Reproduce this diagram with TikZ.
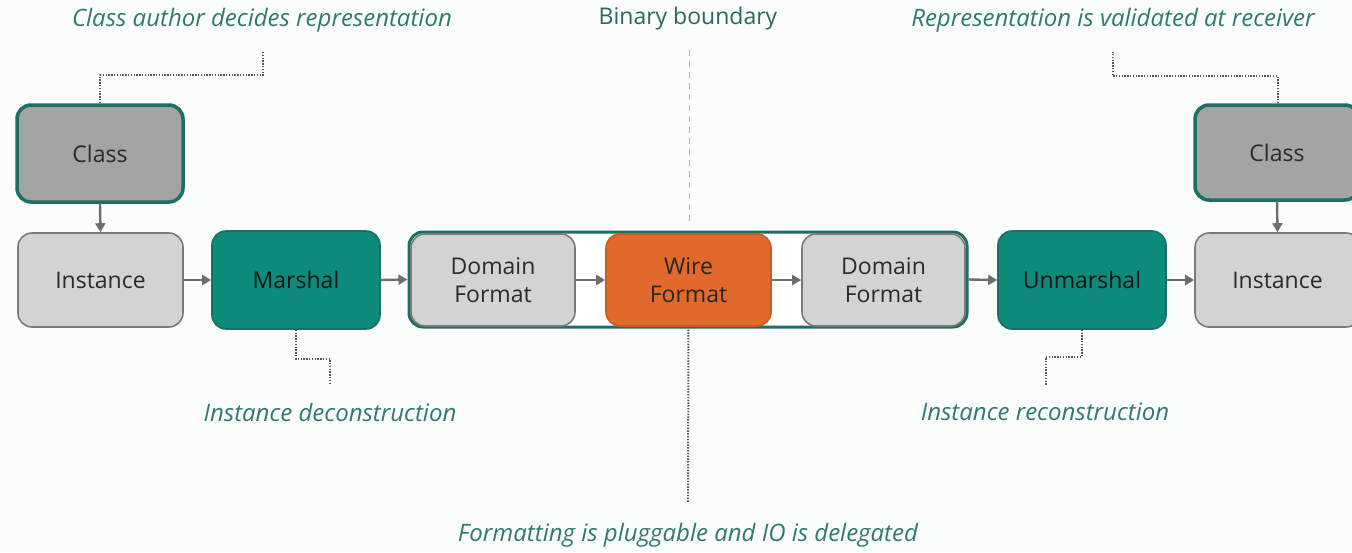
\documentclass[tikz,border=0pt]{standalone}
\usepackage{fontspec}
\setmainfont{Open Sans}
\usetikzlibrary{arrows.meta}
\definecolor{tealfill}{HTML}{0E8A7A}
\definecolor{tealdark}{HTML}{1D6E66}
\definecolor{classgray}{HTML}{A4A4A4}
\definecolor{lightgray}{HTML}{D3D3D3}
\definecolor{bordergray}{HTML}{7A7A7A}
\definecolor{wireorange}{HTML}{E0692B}
\definecolor{wireborder}{HTML}{C65D28}
\definecolor{labelteal}{HTML}{2F7A70}
\definecolor{txtdark}{HTML}{2A2A2A}
\definecolor{arrgray}{HTML}{6E6E6E}
\definecolor{dotgray}{HTML}{555555}
\definecolor{bg}{HTML}{FBFCFC}
\tikzset{
  box/.style={rounded corners=14pt, align=center, inner sep=0pt,
    font=\fontsize{23}{28}\selectfont, text=txtdark},
  classbox/.style={box, draw=tealdark, line width=3.5pt, fill=classgray},
  instbox/.style={box, draw=bordergray, line width=1.6pt, fill=lightgray},
  procbox/.style={box, draw=tealdark, line width=1.6pt, fill=tealfill, text=black!80!tealdark},
  wirebox/.style={box, draw=wireborder, line width=1.6pt, fill=wireorange, text=black!85},
  contbox/.style={rounded corners=14pt, draw=tealdark, line width=3pt, fill=white, inner sep=0pt},
  arr/.style={draw=arrgray, line width=2.4pt, -{Triangle[length=9pt,width=10pt]}},
  dotline/.style={draw=dotgray, line width=2pt, dash pattern=on 1.4pt off 1.4pt},
  note/.style={font=\fontsize{24}{28}\selectfont\itshape, text=labelteal},
}
\begin{document}
\begin{tikzpicture}[x=1pt,y=-1pt]
\useasboundingbox (0,0) rectangle (1352,552);
\fill[bg] (0,0) rectangle (1352,552);

% binary boundary
\node[font=\fontsize{23}{27}\selectfont, text=labelteal!85!black] (bb) at (688,19) {Binary boundary};
\coordinate (bbtop) at (689,50);
\coordinate (bbbot) at (689,222);
\draw[gray!60, line width=1pt, dash pattern=on 6pt off 5pt] (bbtop) -- (bbbot);

% container
\node[contbox, minimum width=558pt, minimum height=95pt] (cont) at (688,279.5) {};

% boxes
\node[classbox, minimum width=166pt, minimum height=97pt] (class1) at (100,153.5) {Class};
\node[instbox, minimum width=165pt, minimum height=94pt] (inst1) at (100.5,280) {Instance};
\node[procbox, minimum width=168pt, minimum height=98pt] (marshal) at (296,280) {Marshal};
\node[instbox, minimum width=164pt, minimum height=92pt] (df1) at (493,280) {Domain\\Format};
\node[wirebox, minimum width=165pt, minimum height=92pt] (wire) at (688.5,280) {Wire\\Format};
\node[instbox, minimum width=163pt, minimum height=92pt] (df2) at (883.5,280) {Domain\\Format};
\node[procbox, minimum width=168pt, minimum height=98pt] (unmarshal) at (1082,280) {Unmarshal};
\node[instbox, minimum width=165pt, minimum height=94pt] (inst2) at (1277.5,280) {Instance};
\node[classbox, minimum width=164pt, minimum height=95pt] (class2) at (1277,152.5) {Class};

% arrows
\draw[arr] (class1.south) -- (inst1.north);
\draw[arr] (inst1.east) -- (marshal.west);
\draw[arr] (marshal.east) -- (cont.west);
\draw[arr] (df1.east) -- (wire.west);
\draw[arr] (wire.east) -- (df2.west);
\draw[arr] (cont.east) -- (unmarshal.west);
\draw[arr] (unmarshal.east) -- (inst2.west);
\draw[arr] (class2.south) -- (inst2.north);

% notes
\node[note] (n1) at (262,20) {Class author decides representation};
\node[note] (n2) at (1113,20) {Representation is validated at receiver};
\node[note] (n3) at (330,412) {Instance deconstruction};
\node[note] (n4) at (1045,412) {Instance reconstruction};
\node[note] (n5) at (688,535) {Formatting is pluggable and IO is delegated};

% dotted leaders
\coordinate (d1) at (263,52);
\draw[dotline] (class1.north) -- ++(0,-28) -| (d1);
\coordinate (d2) at (1113,52);
\draw[dotline] (class2.north) ++(1,0) -- ++(0,-27) -| (d2);
\coordinate (d3) at (330,383);
\draw[dotline] (marshal.south) -- ++(0,29) -| (d3);
\coordinate (d4) at (1046,385);
\draw[dotline] (unmarshal.south) -- ++(0,27) -| (d4);
\coordinate (d5) at (688,503);
\draw[dotline] (wire.south) -- (d5);
\end{tikzpicture}
\end{document}
